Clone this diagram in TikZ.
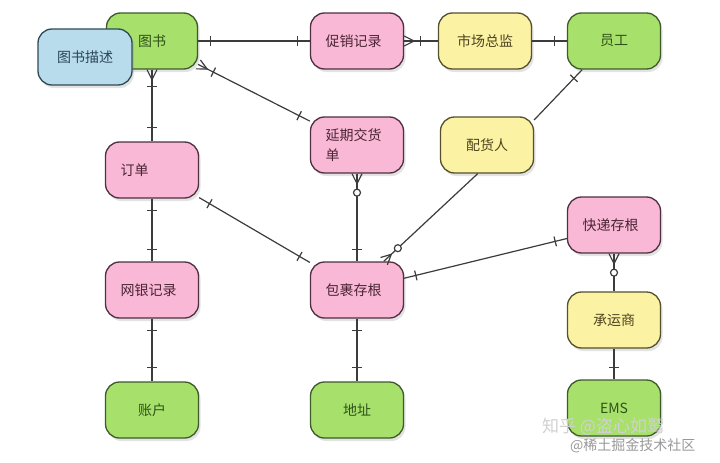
\documentclass[tikz,border=0pt]{standalone}
\usepackage{fontspec}
\newfontfamily\cjk{Noto Sans CJK SC}
\usetikzlibrary{decorations.markings,shadows}
\definecolor{gfill}{HTML}{A8E06C}
\definecolor{gdraw}{HTML}{3E5A2A}
\definecolor{gtext}{HTML}{2F5218}
\definecolor{pfill}{HTML}{F9B9D6}
\definecolor{pdraw}{HTML}{4E3040}
\definecolor{ptext}{HTML}{4A2434}
\definecolor{yfill}{HTML}{FBF2A4}
\definecolor{ydraw}{HTML}{55502E}
\definecolor{ytext}{HTML}{4E4420}
\definecolor{bfill}{HTML}{B8DCEC}
\definecolor{bdraw}{HTML}{2E4A56}
\definecolor{btext}{HTML}{2A4658}
\definecolor{linec}{HTML}{3C3C3C}
\begin{document}
\begin{tikzpicture}[x=1pt,y=-1pt,
  box/.style={line width=1.3pt, rounded corners=14pt, minimum width=93pt, minimum height=56pt,
    inner sep=0pt, font=\cjk\fontsize{14}{20}\selectfont,
    drop shadow={shadow xshift=2pt, shadow yshift=-3pt, opacity=0.22}},
  gbox/.style={box, draw=gdraw, fill=gfill, text=gtext},
  pbox/.style={box, draw=pdraw, fill=pfill, text=ptext},
  ybox/.style={box, draw=ydraw, fill=yfill, text=ytext},
  bbox/.style={box, draw=bdraw, fill=bfill, text=btext},
  lefttext/.style={text width=63pt, align=left},
  conn/.style={draw=linec, line width=1.2pt},
  mk/.style={draw=linec, line width=1.2pt},
  bar/.style={postaction={decorate,decoration={markings,
    mark=at position #1 with {\draw[mk] (0pt,-5pt)--(0pt,5pt);}}}},
  crowS/.style={postaction={decorate,decoration={markings,
    mark=at position 10pt with {\draw[mk] (-10pt,-5pt)--(0pt,0pt)--(-10pt,5pt);}}}},
  crowE/.style={postaction={decorate,decoration={markings,
    mark=at position -10pt with {\draw[mk] (10pt,-5pt)--(0pt,0pt)--(10pt,5pt);}}}},
  ring/.style={postaction={decorate,decoration={markings,
    mark=at position #1 with {\draw[mk,fill=white] (0pt,0pt) circle[radius=3.5pt];}}}}
]
\useasboundingbox (0,0) rectangle (720,463);
\fill[white] (0,0) rectangle (720,463);

% nodes
\node[gbox, minimum width=91pt] (ts) at (152,41) {图书};
\node[bbox, minimum width=94pt] (ms) at (85,57) {图书描述};
\node[pbox, lefttext] (cx) at (357,41) {促销记录};
\node[ybox] (sc) at (485,41) {市场总监};
\node[gbox] (yg) at (614,41) {员工};
\node[pbox, lefttext] (dd) at (152,170) {订单};
\node[pbox, lefttext] (yq) at (357,145) {延期交货\\单};
\node[ybox] (pei) at (487,145) {配货人};
\node[pbox, lefttext] (kd) at (614,225) {快递存根};
\node[pbox, lefttext] (wy) at (152,290) {网银记录};
\node[pbox, lefttext] (bao) at (357,290) {包裹存根};
\node[ybox] (cy) at (614,320) {承运商};
\node[gbox] (zh) at (152,410) {账户};
\node[gbox] (dz) at (357,410) {地址};
\node[gbox] (ems) at (614,408) {EMS};

% connectors
\path[conn, bar=12pt, bar=-12pt] (ts) -- (cx);
\path[conn, crowS, bar=16pt] (cx) -- (sc);
\path[conn, bar=-12pt] (sc) -- (yg);
\path[conn, bar=12pt] (yg.-138) -- (pei.28);
\path[conn, crowS, bar=17pt, bar=-12pt] (ts) -- (yq);
\path[conn, crowS, bar=17pt, bar=-14pt] (ts) -- (dd);
\path[conn, bar=12pt, bar=-12pt] (dd) -- (wy);
\path[conn, bar=12pt, bar=-12pt] (dd) -- (bao);
\path[conn, crowS, ring=19pt, bar=-12pt] (yq) -- (bao);
\path[conn, crowE, ring=-19pt] (pei.-108) -- (bao.47);
\path[conn, bar=12pt, bar=-12pt] (bao.14) -- (kd.196);
\path[conn, crowS, ring=19pt] (kd) -- (cy);
\path[conn, bar=-12pt] (cy) -- (ems);
\path[conn, bar=12pt, bar=-14pt] (wy) -- (zh);
\path[conn, bar=12pt, bar=-14pt] (bao) -- (dz);

% watermark
\node[font=\cjk\fontsize{17}{20}\selectfont, text=black!18, anchor=west, inner sep=0pt] (wm1) at (542,427) {知乎 @盗心如鹫};
\node[font=\cjk\fontsize{14}{16}\selectfont, text=black!40, anchor=west, inner sep=0pt] (wm2) at (570,446) {@稀土掘金技术社区};
\end{tikzpicture}
\end{document}
